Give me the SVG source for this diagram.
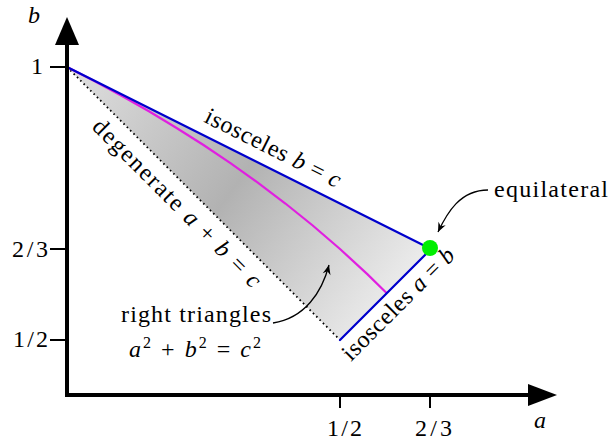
<svg xmlns="http://www.w3.org/2000/svg" width="611" height="444" viewBox="0 0 611 444">
<style>
text{font-family:'Liberation Serif','DejaVu Serif',serif;font-size:24px;fill:#000}
.it{font-style:italic}
.sup{font-size:16px}
.tick{stroke:#000;stroke-width:2;fill:none}
.blue{stroke:#0000cc;stroke-width:2.2;fill:none;stroke-linecap:round}
.ptr{stroke:#000;stroke-width:1.3;fill:none}
</style>
<defs>
<linearGradient id="shade" gradientUnits="userSpaceOnUse" x1="67" y1="67" x2="400" y2="310">
<stop offset="0" stop-color="#e0e0e0"/>
<stop offset="0.5" stop-color="#b2b2b2"/>
<stop offset="1" stop-color="#efefef"/>
</linearGradient>
<marker id="tip" viewBox="-10 -5 11 10" refX="0" refY="0" markerWidth="11" markerHeight="10" markerUnits="userSpaceOnUse" orient="auto">
<path d="M0,0 L-9.5,-4 L-6.5,0 L-9.5,4 Z" fill="#000"/>
</marker>
</defs>

<g id="region">
<polygon points="67,67 431,249 340,340" fill="url(#shade)"/>
<line x1="67" y1="67" x2="340" y2="340" stroke="#000" stroke-width="1.8" stroke-dasharray="1.6 3.1"/>
<polyline points="67,67 94.3,81 121.6,95.7 148.9,111.3 176.2,127.7 203.5,145 230.8,163.4 258.1,182.8 285.4,203.5 312.7,225.5 340,249 367.3,274.1 386.8,293.2" fill="none" stroke="#e020e0" stroke-width="2.2"/>
<line class="blue" x1="67" y1="67" x2="431" y2="249"/>
<line class="blue" x1="431" y1="249" x2="340" y2="340"/>
</g>

<g id="axes">
<path d="M67,44 V395 H530" fill="none" stroke="#000" stroke-width="4" stroke-linejoin="miter"/>
<polygon points="67,17 55,45 79,45" fill="#000"/>
<polygon points="557,395 528,384 528,406" fill="#000"/>
<line class="tick" x1="50" y1="67" x2="67" y2="67"/>
<line class="tick" x1="50" y1="249" x2="67" y2="249"/>
<line class="tick" x1="50" y1="340" x2="67" y2="340"/>
<line class="tick" x1="340" y1="395" x2="340" y2="408"/>
<line class="tick" x1="430" y1="395" x2="430" y2="408"/>
<text x="34" y="23" text-anchor="middle" class="it">b</text>
<text x="43" y="74" text-anchor="end">1</text>
<text x="48" y="257" text-anchor="end" textLength="36">2/3</text>
<text x="48" y="347" text-anchor="end" textLength="35">1/2</text>
<text x="327" y="436" textLength="35">1/2</text>
<text x="415" y="436" textLength="37">2/3</text>
<text x="540" y="428" text-anchor="middle" class="it">a</text>
</g>

<g id="equilateral-point">
<circle cx="430" cy="248" r="8" fill="#00ee00"/>
</g>

<g id="labels">
<text transform="translate(203,121.6) rotate(26.57)" textLength="149">isosceles <tspan class="it">b</tspan> = <tspan class="it">c</tspan></text>
<text transform="translate(91,128) rotate(45)" textLength="228">degenerate <tspan class="it">a</tspan> + <tspan class="it">b</tspan> = <tspan class="it">c</tspan></text>
<text transform="translate(351,362) rotate(-45)" textLength="149">isosceles <tspan class="it">a</tspan> = <tspan class="it">b</tspan></text>
<text x="494" y="197" textLength="114">equilateral</text>
<text x="121" y="322" textLength="150">right triangles</text>
<text x="129" y="357" textLength="132"><tspan class="it">a</tspan><tspan class="sup" dy="-9">2</tspan><tspan dy="9"> + </tspan><tspan class="it">b</tspan><tspan class="sup" dy="-9">2</tspan><tspan dy="9"> = </tspan><tspan class="it">c</tspan><tspan class="sup" dy="-9">2</tspan></text>
</g>

<g id="connectors">
<path class="ptr" d="M488,190 C460,190 447,213 438,232" marker-end="url(#tip)"/>
<path class="ptr" d="M273,323 C305,318 322,292 329,265" marker-end="url(#tip)"/>
</g>
</svg>
